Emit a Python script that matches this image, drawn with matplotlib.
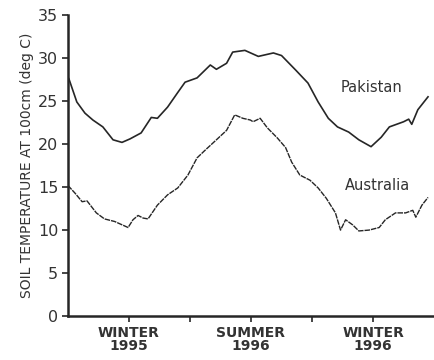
import matplotlib
matplotlib.use("Agg")
import matplotlib.pyplot as plt

# months since April 1995
pak_x = [0.05, 0.44, 0.84, 1.23, 1.72, 2.22, 2.66, 3.05, 3.6, 4.1, 4.4, 4.9, 5.4, 5.76,
         6.35, 7.0, 7.3, 7.8, 8.1, 8.7, 9.36, 10.1, 10.5, 11.2, 11.8, 12.3, 12.8, 13.25,
         13.8, 14.3, 14.9, 15.4, 15.8, 16.5, 16.75, 16.9, 17.2, 17.7]
pak_y = [27.6, 24.9, 23.6, 22.8, 22.0, 20.5, 20.2, 20.6, 21.3, 23.1, 23.0, 24.3, 26.0, 27.2,
         27.7, 29.2, 28.7, 29.4, 30.7, 30.9, 30.2, 30.6, 30.3, 28.6, 27.1, 24.9, 23.0, 22.0,
         21.4, 20.5, 19.7, 20.8, 22.0, 22.6, 22.9, 22.3, 24.0, 25.5]

aus_x = [0.0, 0.35, 0.7, 0.94, 1.4, 1.8, 2.3, 2.96, 3.2, 3.45, 3.7, 3.94, 4.4, 4.9, 5.4,
         5.9, 6.35, 6.75, 7.3, 7.8, 8.2, 8.6, 8.97, 9.1, 9.45, 9.8, 10.3, 10.7, 11.0, 11.4,
         11.9, 12.3, 12.7, 13.15, 13.4, 13.65, 14.0, 14.3, 14.8, 15.3, 15.6, 16.1, 16.6,
         16.95, 17.1, 17.4, 17.7]
aus_y = [15.2, 14.3, 13.3, 13.4, 12.0, 11.3, 11.0, 10.3, 11.2, 11.7, 11.4, 11.3, 12.9, 14.1,
         14.9, 16.4, 18.4, 19.3, 20.5, 21.6, 23.4, 23.0, 22.8, 22.6, 23.0, 21.9, 20.7, 19.6,
         17.9, 16.4, 15.8, 14.9, 13.7, 12.0, 10.0, 11.2, 10.6, 9.9, 10.0, 10.3, 11.2, 12.0,
         12.0, 12.3, 11.5, 12.9, 13.8]

x_ticks = [3, 6, 9, 12, 15]
x_tick_labels = ["WINTER\n1995", "", "SUMMER\n1996", "", "WINTER\n1996"]
y_ticks = [0, 5, 10, 15, 20, 25, 30, 35]

ink = "#262626"
txt = "#333333"
fig = plt.figure(figsize=(4.35, 3.6), dpi=100)
ax = fig.add_axes([0.156, 0.122, 0.842, 0.836])
ax.plot(pak_x, pak_y, color=ink, lw=1.2, solid_joinstyle="round")
ax.plot(aus_x, aus_y, color=ink, lw=1.0, ls=(0, (4, 0.7)))

ax.set_xlim(0, 18)
ax.set_ylim(0, 35)
ax.set_xticks(x_ticks)
ax.set_xticklabels(x_tick_labels, fontsize=10, fontweight="semibold", color=txt,
                   linespacing=0.9)
ax.set_yticks(y_ticks)
ax.set_yticklabels([str(v) for v in y_ticks], fontsize=11.5, color=txt)
ax.tick_params(axis="both", direction="out", length=4, width=1.2, color=ink, pad=3)
for s in ["top", "right"]:
    ax.spines[s].set_visible(False)
for s in ["left", "bottom"]:
    ax.spines[s].set_linewidth(1.8)
    ax.spines[s].set_color(ink)

ax.set_ylabel("SOIL TEMPERATURE AT 100cm (deg C)", fontsize=10, color=txt,
              labelpad=3)
ax.text(14.9, 26.6, "Pakistan", fontsize=10.5, color=txt, ha="center", va="center")
ax.text(15.2, 15.2, "Australia", fontsize=10.5, color=txt, ha="center", va="center")

fig.savefig("out.png", dpi=100)
